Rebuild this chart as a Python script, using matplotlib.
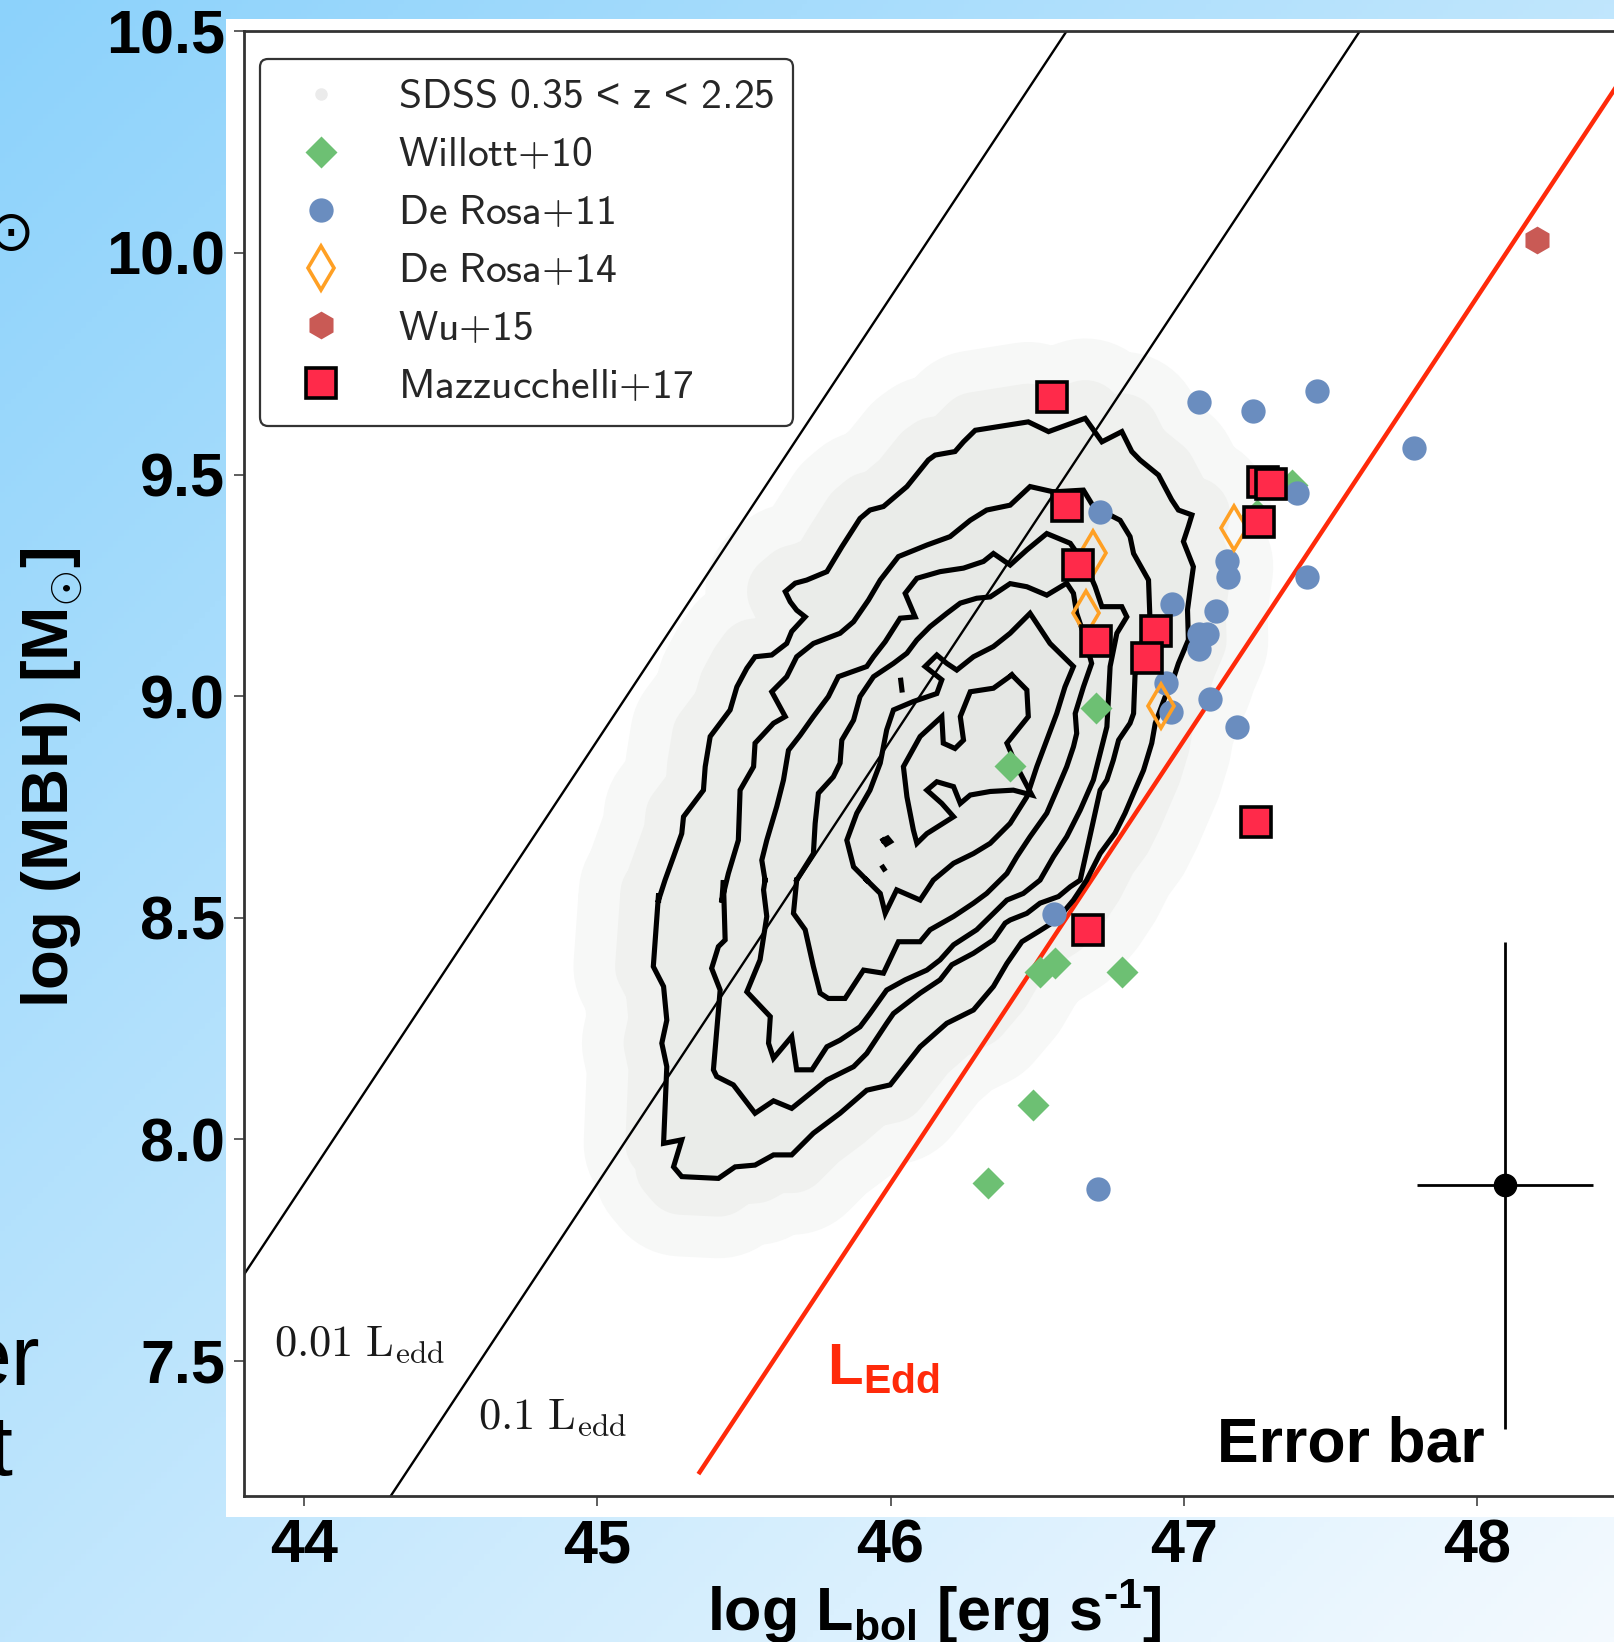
import matplotlib
matplotlib.use('Agg')
import matplotlib.pyplot as plt
import numpy as np
from matplotlib.font_manager import FontProperties
from matplotlib.lines import Line2D
from matplotlib.patches import Rectangle

plt.rcParams['font.family'] = ['Liberation Sans', 'DejaVu Sans']
plt.rcParams['mathtext.fontset'] = 'custom'
plt.rcParams['mathtext.rm'] = 'Liberation Sans'
plt.rcParams['mathtext.bf'] = 'Liberation Sans:bold'
plt.rcParams['mathtext.it'] = 'Liberation Sans:italic'
plt.rcParams['mathtext.sf'] = 'cmss10'

# ---- data (log Lbol, log MBH) ----
willott_L = [46.408, 46.701, 47.369, 47.249, 46.510, 46.561, 46.789, 46.487, 46.334]
willott_M = [8.843, 8.973, 9.477, 9.409, 8.378, 8.397, 8.378, 8.078, 7.901]

derosa11_L = [46.715, 47.053, 47.236, 47.454, 47.784, 47.386, 47.149, 47.150, 47.422, 46.961,
              47.109, 47.052, 47.078, 47.052, 46.938, 46.956, 47.088, 47.183, 46.556, 46.709]
derosa11_M = [9.415, 9.663, 9.643, 9.689, 9.559, 9.458, 9.305, 9.268, 9.270, 9.207,
              9.192, 9.141, 9.141, 9.106, 9.029, 8.965, 8.994, 8.931, 8.508, 7.888]

derosa14_L = [46.692, 46.667, 47.170, 46.922]
derosa14_M = [9.322, 9.187, 9.379, 8.978]

wu15_L = [48.205]
wu15_M = [10.029]

mazz17_L = [46.550, 46.603, 46.639, 46.701, 47.272, 47.298, 47.258, 46.905, 46.874, 47.245, 46.675]
mazz17_M = [9.674, 9.429, 9.296, 9.125, 9.484, 9.478, 9.392, 9.146, 9.086, 8.717, 8.472]

# Eddington ratio lines: log M = log L - edd_offset - log10(ratio)
edd_offset = 38.1
edd_ratios = [0.01, 0.1, 1.0]

# typical error bar
err_L, err_M = 48.096, 7.896
err_dL, err_dM = 0.30, 0.55

# SDSS density contours (traced vertices)
contour_1 = [(45.209, 8.540), (45.231, 8.585), (45.260, 8.638), (45.288, 8.690), (45.294, 8.728),
             (45.362, 8.788), (45.368, 8.841), (45.385, 8.909), (45.453, 8.969), (45.476, 9.021),
             (45.510, 9.063), (45.538, 9.089), (45.595, 9.093), (45.646, 9.119), (45.663, 9.146),
             (45.709, 9.179), (45.680, 9.194), (45.658, 9.213), (45.641, 9.236), (45.675, 9.255),
             (45.714, 9.262), (45.783, 9.281), (45.834, 9.337), (45.896, 9.401), (45.930, 9.420),
             (45.976, 9.428), (46.056, 9.473), (46.129, 9.533), (46.152, 9.544), (46.220, 9.552),
             (46.249, 9.574), (46.289, 9.600), (46.470, 9.619), (46.539, 9.597), (46.664, 9.627),
             (46.721, 9.574), (46.789, 9.597), (46.823, 9.552), (46.851, 9.533), (46.914, 9.499),
             (46.959, 9.443), (46.982, 9.420), (47.028, 9.409), (47.016, 9.383), (46.999, 9.349),
             (47.033, 9.292), (47.022, 9.240), (47.013, 9.195), (47.016, 9.127), (46.982, 9.074),
             (46.967, 9.044), (46.937, 8.999), (46.903, 8.939), (46.891, 8.894), (46.863, 8.833),
             (46.829, 8.781), (46.800, 8.736), (46.766, 8.691), (46.715, 8.645), (46.669, 8.585),
             (46.624, 8.540), (46.567, 8.495), (46.505, 8.469), (46.448, 8.446), (46.397, 8.397),
             (46.351, 8.345), (46.283, 8.292), (46.192, 8.262), (46.101, 8.209), (45.999, 8.123),
             (45.919, 8.111), (45.828, 8.059), (45.737, 8.014), (45.663, 7.965), (45.601, 7.965),
             (45.538, 7.942), (45.470, 7.938), (45.413, 7.912), (45.288, 7.916), (45.260, 7.938),
             (45.288, 7.999), (45.226, 7.991), (45.237, 8.164), (45.220, 8.217), (45.237, 8.269),
             (45.226, 8.345), (45.191, 8.390), (45.209, 8.555), (45.209, 8.540)]
contour_2 = [(45.425, 8.540), (45.447, 8.600), (45.481, 8.675), (45.487, 8.788), (45.533, 8.841),
             (45.538, 8.894), (45.601, 8.939), (45.641, 8.954), (45.595, 9.010), (45.646, 9.044),
             (45.680, 9.089), (45.737, 9.119), (45.828, 9.142), (45.874, 9.168), (45.925, 9.217),
             (45.965, 9.262), (46.027, 9.315), (46.124, 9.341), (46.203, 9.360), (46.272, 9.397),
             (46.328, 9.420), (46.408, 9.431), (46.476, 9.473), (46.556, 9.461), (46.658, 9.465),
             (46.692, 9.428), (46.783, 9.397), (46.817, 9.360), (46.829, 9.322), (46.880, 9.262),
             (46.885, 9.172), (46.883, 9.157), (46.863, 9.104), (46.834, 9.048), (46.829, 8.961),
             (46.817, 8.939), (46.778, 8.901), (46.760, 8.856), (46.738, 8.811), (46.715, 8.788),
             (46.647, 8.585), (46.613, 8.570), (46.573, 8.548), (46.510, 8.533), (46.465, 8.510),
             (46.408, 8.495), (46.391, 8.488), (46.351, 8.450), (46.283, 8.420), (46.209, 8.394),
             (46.169, 8.360), (46.101, 8.330), (46.010, 8.284), (45.987, 8.262), (45.919, 8.194),
             (45.874, 8.164), (45.783, 8.134), (45.663, 8.070), (45.601, 8.087), (45.538, 8.059),
             (45.464, 8.123), (45.407, 8.142), (45.396, 8.157), (45.419, 8.337), (45.390, 8.386),
             (45.413, 8.435), (45.436, 8.450), (45.430, 8.585), (45.425, 8.540)]
contour_3 = [(45.572, 8.585), (45.561, 8.630), (45.578, 8.675), (45.612, 8.751), (45.635, 8.811),
             (45.652, 8.878), (45.692, 8.912), (45.737, 8.954), (45.788, 8.999), (45.822, 9.044),
             (45.919, 9.067), (45.942, 9.089), (45.982, 9.123), (46.033, 9.176), (46.084, 9.179),
             (46.050, 9.232), (46.090, 9.266), (46.169, 9.281), (46.249, 9.289), (46.317, 9.304),
             (46.351, 9.322), (46.408, 9.296), (46.465, 9.330), (46.533, 9.367), (46.613, 9.345),
             (46.669, 9.292), (46.698, 9.247), (46.721, 9.202), (46.789, 9.202), (46.806, 9.179),
             (46.772, 9.142), (46.749, 9.067), (46.743, 8.991), (46.738, 8.931), (46.715, 8.871),
             (46.692, 8.811), (46.647, 8.743), (46.601, 8.683), (46.556, 8.638), (46.510, 8.585),
             (46.453, 8.555), (46.397, 8.540), (46.351, 8.510), (46.294, 8.473), (46.215, 8.439),
             (46.169, 8.405), (46.124, 8.382), (46.050, 8.360), (45.987, 8.337), (45.930, 8.284),
             (45.896, 8.254), (45.828, 8.224), (45.783, 8.209), (45.732, 8.157), (45.680, 8.157),
             (45.663, 8.232), (45.601, 8.183), (45.584, 8.217), (45.590, 8.277), (45.510, 8.333),
             (45.555, 8.405), (45.578, 8.503), (45.567, 8.563), (45.572, 8.585)]
contour_4 = [(45.680, 8.585), (45.737, 8.645), (45.743, 8.713), (45.754, 8.781), (45.805, 8.818),
             (45.828, 8.849), (45.834, 8.901), (45.874, 8.946), (45.896, 8.999), (45.942, 9.044),
             (46.010, 9.074), (46.056, 9.097), (46.090, 9.127), (46.135, 9.157), (46.192, 9.187),
             (46.238, 9.210), (46.294, 9.221), (46.340, 9.224), (46.408, 9.254), (46.465, 9.247),
             (46.533, 9.228), (46.601, 9.255), (46.624, 9.232), (46.635, 9.187), (46.658, 9.142),
             (46.686, 9.074), (46.658, 9.021), (46.630, 8.961), (46.635, 8.916), (46.624, 8.886),
             (46.601, 8.841), (46.567, 8.788), (46.533, 8.736), (46.476, 8.683), (46.431, 8.638),
             (46.397, 8.600), (46.374, 8.585), (46.328, 8.555), (46.283, 8.533), (46.215, 8.503),
             (46.135, 8.473), (46.101, 8.446), (46.027, 8.446), (45.976, 8.375), (45.908, 8.382),
             (45.845, 8.318), (45.788, 8.318), (45.760, 8.330), (45.737, 8.390), (45.709, 8.473),
             (45.669, 8.510), (45.680, 8.585)]
contour_5 = [(45.919, 8.585), (45.874, 8.615), (45.851, 8.675), (45.885, 8.736), (45.930, 8.788),
             (45.965, 8.849), (45.987, 8.924), (46.010, 8.969), (46.078, 8.988), (46.158, 9.006),
             (46.175, 9.037), (46.118, 9.067), (46.158, 9.093), (46.192, 9.074), (46.226, 9.059),
             (46.283, 9.089), (46.351, 9.112), (46.408, 9.142), (46.476, 9.187), (46.544, 9.119),
             (46.624, 9.067), (46.595, 9.021), (46.567, 8.961), (46.533, 8.901), (46.499, 8.841),
             (46.465, 8.773), (46.408, 8.713), (46.340, 8.668), (46.283, 8.645), (46.215, 8.623),
             (46.146, 8.585), (46.101, 8.540), (46.021, 8.563), (45.982, 8.510), (45.965, 8.555),
             (45.919, 8.585)]
contour_6 = [(46.414, 9.048), (46.465, 9.014), (46.470, 8.954), (46.397, 8.894), (46.431, 8.841),
             (46.482, 8.777), (46.419, 8.788), (46.340, 8.785), (46.272, 8.777), (46.238, 8.758),
             (46.215, 8.796), (46.158, 8.807), (46.124, 8.788), (46.175, 8.758), (46.215, 8.728),
             (46.124, 8.690), (46.090, 8.668), (46.078, 8.698), (46.056, 8.773), (46.044, 8.841),
             (46.101, 8.909), (46.175, 8.954), (46.180, 8.894), (46.220, 8.882), (46.249, 8.901),
             (46.238, 8.954), (46.272, 9.010), (46.351, 9.018), (46.414, 9.048)]
contour_islands = [[(46.035, 9.036), (46.039, 9.014)],
                   [(45.975, 8.675), (45.990, 8.680), (46.000, 8.672), (45.985, 8.666), (45.975, 8.675)],
                   [(45.974, 8.614), (45.978, 8.610)]]
contours = [contour_1, contour_2, contour_3, contour_4, contour_5, contour_6]
contour_fill = ['#eaece9', '#e8eae7', '#e7e9e6', '#e6e8e5', '#e5e7e4', '#e5e7e4']

x_ticks = [44, 45, 46, 47, 48]
y_ticks = [7.5, 8.0, 8.5, 9.0, 9.5, 10.0, 10.5]

c_green = '#6dc073'
c_blue = '#6a8dbf'
c_orange = '#ffa024'
c_hex = '#c95a55'
c_red = '#ff2a4a'
c_edd = '#ff2a0a'

W, H = 1615, 1642
fig = plt.figure(figsize=(W / 100, H / 100), dpi=100)

# slide background: diagonal blue gradient + white plot card
bg = fig.add_axes([0, 0, 1, 1], zorder=-5)
yy, xx = np.mgrid[0:1:300j, 0:1:300j]
t = (xx + yy) / 2.0
c0 = np.array([140, 210, 251]) / 255.0
c1 = np.array([244, 250, 255]) / 255.0
bg.imshow(c0 + (c1 - c0) * t[..., None], extent=[0, 1, 0, 1], origin='upper', aspect='auto')
bg.add_patch(Rectangle((226 / W, 1 - 1516.5 / H), 1 - 226 / W, (1516.5 - 19) / H,
                       facecolor='white', edgecolor='none'))
bg.set_xlim(0, 1)
bg.set_ylim(0, 1)
bg.axis('off')

ax = fig.add_axes([244 / W, 1 - 1495.5 / H, 1 - 244 / W, (1495.5 - 31.4) / H])
ax.set_xlim(43.795, 48.471)
ax.set_ylim(7.1965, 10.5)

# SDSS cloud (shaded) and density contours
cx, cy = zip(*contour_1)
ax.fill(cx, cy, facecolor='none', edgecolor='#f7f8f7', lw=115, joinstyle='round', zorder=0.2)
ax.fill(cx, cy, facecolor='none', edgecolor='#f0f1ef', lw=55, joinstyle='round', zorder=0.3)
for cont, fc in zip(contours, contour_fill):
    cx, cy = zip(*cont)
    ax.fill(cx, cy, facecolor=fc, edgecolor='none', zorder=0.5)
for cont in contours + contour_islands:
    cx, cy = zip(*cont)
    ax.plot(cx, cy, color='black', lw=3.7, solid_joinstyle='miter', zorder=3)

# Eddington lines
for r in edd_ratios:
    if r < 1:
        lx = np.array([43.0, 49.0])
        ax.plot(lx, lx - edd_offset - np.log10(r), color='black', lw=1.7, zorder=2)
    else:
        lx = np.array([45.349, 49.0])
        ax.plot(lx, lx - edd_offset - np.log10(r), color=c_edd, lw=3.2, zorder=2)

# samples
h_w, = ax.plot(willott_L, willott_M, ls='none', marker='D', ms=16.8, color=c_green, mec='none', zorder=5)
h_d11, = ax.plot(derosa11_L, derosa11_M, ls='none', marker='o', ms=17.5, color=c_blue, mec='none', zorder=6)
h_d14, = ax.plot(derosa14_L, derosa14_M, ls='none', marker='d', ms=22, mfc='none', mec=c_orange,
                 mew=2.6, zorder=7)
h_wu, = ax.plot(wu15_L, wu15_M, ls='none', marker='h', ms=20, color=c_hex, mec='none', zorder=7)
h_mz, = ax.plot(mazz17_L, mazz17_M, ls='none', marker='s', ms=21.5, mfc=c_red, mec='black',
                mew=2.6, zorder=8)
h_sdss = Line2D([], [], ls='none', marker='o', ms=9, color='#ebebeb', mec='none')

ax.errorbar([err_L], [err_M], xerr=[err_dL], yerr=[err_dM], fmt='o', color='black',
            ms=16, lw=2, capsize=0, zorder=6)

# annotations
ax.text(43.899, 7.511, r'$\mathrm{0.01\ L_{edd}}$', math_fontfamily='cm', fontsize=32,
        color='#1a1a1a', ha='left', va='baseline')
ax.text(44.592, 7.345, r'$\mathrm{0.1\ L_{edd}}$', math_fontfamily='cm', fontsize=32,
        color='#1a1a1a', ha='left', va='baseline')
ax.text(45.785, 7.447, r'$\mathbf{L_{Edd}}$', fontsize=42, color=c_edd, ha='left', va='baseline')
ax.text(47.114, 7.274, 'Error bar', fontsize=45, fontweight='bold', ha='left', va='baseline', zorder=9)

legend_labels = [r'$\mathsf{SDSS\ 0.35}\,<\,\mathsf{z}\,<\,\mathsf{2.25}$',
                 r'$\mathsf{Willott{+}10}$',
                 r'$\mathsf{De\ Rosa{+}11}$',
                 r'$\mathsf{De\ Rosa{+}14}$',
                 r'$\mathsf{Wu{+}15}$',
                 r'$\mathsf{Mazzucchelli{+}17}$']
leg = ax.legend([h_sdss, h_w, h_d11, h_d14, h_wu, h_mz], legend_labels,
                loc='upper left', bbox_to_anchor=(0.0115, 0.9814), borderaxespad=0,
                prop=FontProperties(size=30), fancybox=True,
                edgecolor='#333333', framealpha=1, borderpad=0.45, handlelength=2.05,
                handletextpad=0.82, labelspacing=0.43, labelcolor='#262626', numpoints=1)
leg.get_frame().set_linewidth(1.6)
leg.set_zorder(10)

# axes styling
for side in ['left', 'top', 'bottom']:
    ax.spines[side].set_linewidth(2)
    ax.spines[side].set_color('#333333')
ax.spines['right'].set_visible(False)
ax.set_xticks(x_ticks)
ax.set_xticklabels([str(v) for v in x_ticks], fontsize=44, fontweight='bold')
ax.set_yticks(y_ticks)
ax.set_yticklabels(['%.1f' % v for v in y_ticks], fontsize=44, fontweight='bold')
ax.tick_params(axis='both', direction='out', length=7.5, width=1.1, color='#333333')
ax.tick_params(axis='x', pad=9)
ax.tick_params(axis='y', pad=6)
for lbl in ax.get_xticklabels() + ax.get_yticklabels():
    lbl.set_clip_on(False)

fig.text(934 / W, 1 - 1631 / H, r'$\mathbf{log\ L_{bol}\ [erg\ s^{' + '\u2010' + r'1}]}$',
         fontsize=44, ha='center', va='baseline')
fig.text(53 / W, 1 - 778 / H, r'$\mathbf{log\ (MBH)\ [M_{\odot}]}$', fontsize=47,
         rotation=90, ha='center', va='center')

# fragments of the slide text cut by the left edge
fig.text(11 / W, 1 - 235 / H, '\u2299', fontsize=40, family='DejaVu Sans', ha='center', va='center')
fig.text(40 / W, 1 - 1384.5 / H, 'er', fontsize=62, ha='right', va='baseline')
fig.text(13 / W, 1 - 1474.6 / H, 't', fontsize=62, ha='right', va='baseline')

fig.savefig('out.png', dpi=100)
